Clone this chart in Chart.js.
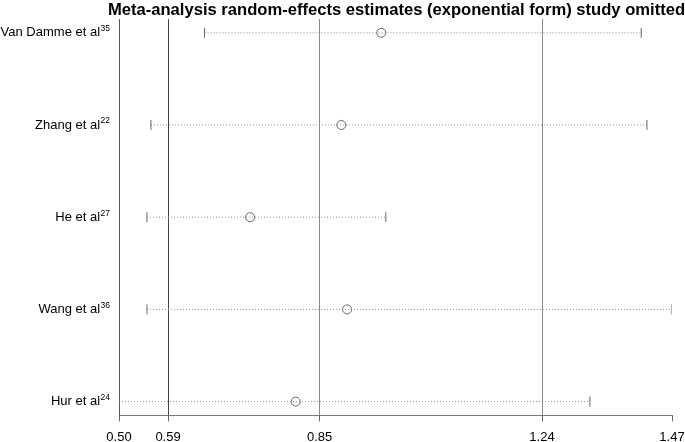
<!DOCTYPE html>
<html>
<head>
<meta charset="utf-8">
<script src="https://cdn.jsdelivr.net/npm/chart.js@4.4.1/dist/chart.umd.min.js"></script>
<style>
  html, body { margin: 0; padding: 0; background: #fff; }
  #wrap { width: 685px; height: 442px; }
</style>
</head>
<body>
<div id="wrap"><canvas id="chart"></canvas></div>
<script>
const chartTitle = 'Meta-analysis random-effects estimates (exponential form) study omitted';
const studies = ['Van Damme et al', 'Zhang et al', 'He et al', 'Wang et al', 'Hur et al'];
const studyRefs = ['35', '22', '27', '36', '24'];
const estimates = [0.96, 0.89, 0.73, 0.90, 0.81];
const lowerCI = [0.65, 0.556, 0.549, 0.549, 0.50];
const upperCI = [1.416, 1.426, 0.968, 1.47, 1.326];
// overall lower CI, pooled estimate, upper CI sit on the axis with rounded labels
const xTicks = [0.50, 0.586, 0.852, 1.242, 1.47];
const xTickLabels = ['0.50', '0.59', '0.85', '1.24', '1.47'];

// grid colour per tick: overall lower CI dark, estimate/upper lighter, none at the right end
const gridColors = ['#555', '#444', '#8a8a8a', '#8a8a8a', 'rgba(0,0,0,0)'];

const datasets = [];
studies.forEach((name, i) => {
    datasets.push({
        type: 'line',
        data: [{ x: lowerCI[i], y: i }, { x: upperCI[i], y: i }],
        borderColor: '#8c8c8c',
        borderWidth: 1,
        borderDash: [1, 2],
        pointStyle: 'line',
        rotation: 90,
        pointRadius: 5,
        pointBorderColor: '#666',
        pointBorderWidth: 1,
        pointHoverRadius: 5
    });
});
datasets.push({
    type: 'scatter',
    data: estimates.map((v, i) => ({ x: v, y: i })),
    pointStyle: 'circle',
    pointRadius: 4.5,
    pointBackgroundColor: '#fff',
    pointBorderColor: '#666',
    pointBorderWidth: 1
});

// study names with superscript reference numbers, plus the title centred over the plot area
const rowLabels = {
    id: 'rowLabels',
    afterDraw(chart) {
        const ctx = chart.ctx;
        const area = chart.chartArea;
        const yScale = chart.scales.y;
        const right = area.left - 9;
        ctx.save();
        ctx.fillStyle = '#000';
        ctx.textBaseline = 'middle';
        studies.forEach((name, i) => {
            const y = yScale.getPixelForValue(i);
            ctx.font = '8.5px "Liberation Sans", Arial, sans-serif';
            const supW = ctx.measureText(studyRefs[i]).width;
            ctx.textAlign = 'left';
            ctx.fillText(studyRefs[i], right - supW, y - 4);
            ctx.font = '13px "Liberation Sans", Arial, sans-serif';
            ctx.textAlign = 'right';
            ctx.fillText(name, right - supW - 0.5, y);
        });
        ctx.font = 'bold 16.6px "Liberation Sans", Arial, sans-serif';
        ctx.textAlign = 'center';
        ctx.textBaseline = 'alphabetic';
        ctx.fillText(chartTitle, (area.left + area.right) / 2 + 1, 15);
        ctx.restore();
    }
};

new Chart(document.getElementById('chart'), {
    type: 'scatter',
    data: { datasets: datasets },
    options: {
        responsive: true,
        maintainAspectRatio: false,
        animation: false,
        layout: { padding: { right: 13, bottom: -11, left: 0, top: 19 } },
        plugins: {
            legend: { display: false },
            tooltip: { enabled: false },
            title: { display: false }
        },
        scales: {
            x: {
                type: 'linear',
                min: 0.5,
                max: 1.47,
                afterBuildTicks: scale => { scale.ticks = xTicks.map(v => ({ value: v })); },
                afterFit: scale => { scale.paddingLeft = 0; scale.paddingRight = 0; },
                ticks: {
                    autoSkip: false,
                    maxRotation: 0,
                    color: '#000',
                    padding: 8,
                    font: { family: '"Liberation Sans", Arial, sans-serif', size: 13 },
                    callback: (v, i) => xTickLabels[i]
                },
                grid: {
                    color: c => (c.tick ? gridColors[c.index] : '#888'),
                    tickColor: '#666',
                    tickLength: 6,
                    lineWidth: 1
                },
                border: { display: true, color: '#777' }
            },
            y: {
                type: 'linear',
                min: -0.15,
                max: 4.15,
                reverse: true,
                afterFit: scale => { scale.width = 119; },
                ticks: { display: false },
                grid: { display: false },
                border: { display: true, color: '#555' }
            }
        }
    },
    plugins: [rowLabels]
});
</script>
</body>
</html>
